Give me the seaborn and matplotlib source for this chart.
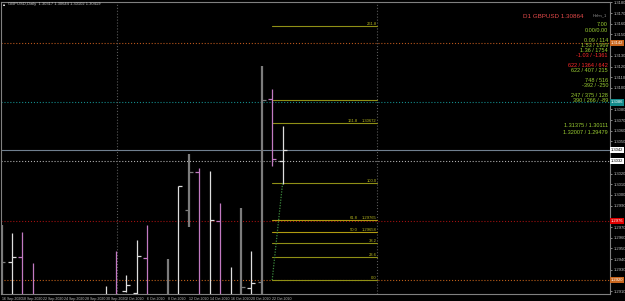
import matplotlib
matplotlib.use("Agg")
import matplotlib.pyplot as plt
import seaborn as sns
import numpy as np

# ---------------- data ----------------
dates = ["16 Sep 2020", "17 Sep 2020", "18 Sep 2020", "21 Sep 2020", "22 Sep 2020",
         "23 Sep 2020", "24 Sep 2020", "25 Sep 2020", "28 Sep 2020", "29 Sep 2020",
         "30 Sep 2020", "1 Oct 2020", "2 Oct 2020", "5 Oct 2020", "6 Oct 2020",
         "7 Oct 2020", "8 Oct 2020", "9 Oct 2020", "12 Oct 2020", "13 Oct 2020",
         "14 Oct 2020", "15 Oct 2020", "16 Oct 2020", "19 Oct 2020", "20 Oct 2020",
         "21 Oct 2020", "22 Oct 2020", "23 Oct 2020"]
opens = [1.2880, 1.29373, 1.29419, 1.2900, 1.2815, 1.2742, 1.2727, 1.2750, 1.2745, 1.2830,
         1.2850, 1.2900, 1.29102, 1.29080, 1.29410, 1.2880, 1.2895, 1.2900, 1.29859, 1.30214,
         1.2900, 1.29756, 1.2890, 1.2900, 1.29130, 1.29186, 1.30896, 1.30317]
highs = [1.29718, 1.29644, 1.29653, 1.29363, 1.2845, 1.2803, 1.2790, 1.2773, 1.2875, 1.2895,
         1.29148, 1.29476, 1.29251, 1.29578, 1.29718, 1.2900, 1.29401, 1.30083, 1.30382, 1.30251,
         1.30223, 1.29924, 1.29326, 1.29877, 1.29476, 1.31205, 1.30990, 1.30644]
lows = [1.2860, 1.2870, 1.2880, 1.2850, 1.2715, 1.2686, 1.2686, 1.2695, 1.2745, 1.2805,
        1.2830, 1.2860, 1.29092, 1.29070, 1.2870, 1.2845, 1.2870, 1.2880, 1.29700, 1.2880,
        1.2885, 1.2880, 1.2870, 1.2880, 1.2890, 1.2890, 1.30270, 1.30102]
closes = [1.29373, 1.29419, 1.2895, 1.2880, 1.2742, 1.2727, 1.2750, 1.2745, 1.2830, 1.2850,
          1.2900, 1.2880, 1.29160, 1.29429, 1.2895, 1.2890, 1.2900, 1.30083, 1.30214, 1.2900,
          1.29765, 1.2895, 1.2905, 1.29139, 1.29176, 1.30887, 1.30335, 1.30419]
bar_kind = ["g", "w", "p", "p", "w", "p", "w", "p", "w", "w",
            "w", "p", "w", "w", "p", "w", "g", "w", "g", "p",
            "w", "p", "w", "g", "w", "g", "p", "w"]

fib_levels = [0.0, 23.6, 38.2, 50.0, 61.8, 100.0, 161.8, 185.4, 261.8]
fib_p0 = 1.29204
fib_p100 = 1.30111

hlines_price = [1.31419, 1.30864, 1.30419, 1.30317, 1.29756, 1.29204]
hlines_color = ["#b8561c", "#138a8a", "#6f7f8f", "#b0b0b0", "#a01010", "#c0601a"]
hlines_style = [":", ":", "-", ":", ":", ":"]

vlines_x = [11.05, 36.1]

price_ticks = [round(1.2910 + 0.0010 * k, 4) for k in range(28)]

info_lines = [("7.00", "g"), ("0.00/0.00", "g"),
              ("0.09 / 114", "g"), ("1.53 / 1969", "g"), ("1.36 / 1754", "g"), ("-1.03 / -1361", "r"),
              ("622 / 1364 / 642", "r"), ("622 / 407 / 215", "g"),
              ("748 / 516", "g"), ("-392 / -250", "g"),
              ("247 / 375 / 128", "g"), ("390 / 266 / -89", "g")]
info_y = [25, 30, 40.7, 45.7, 50.7, 55.7, 65.7, 70.7, 80.7, 85.7, 95.7, 100.7]
hl_lines = ["1.31375 / 1.30111", "1.32007 / 1.29479"]

# ---------------- style ----------------
sns.set_theme(style="dark", rc={"axes.facecolor": "black", "figure.facecolor": "black",
                                "axes.edgecolor": "#808080", "text.color": "#c0c0c0",
                                "xtick.color": "#c0c0c0", "ytick.color": "#c0c0c0"})
plt.rcParams["font.family"] = ["Liberation Sans", "DejaVu Sans"]

W, H = 625, 301
fig = plt.figure(figsize=(W / 100, H / 100), dpi=100, facecolor="black")
ax = fig.add_axes([1 / W, 7 / H, 609 / W, 292 / H])
ax.set_facecolor("black")

ymin, ymax = 1.29074, 1.31803
ax.set_ylim(ymin, ymax)
ax.set_xlim(-0.05, 58.45)

# horizontal lines
for p, c, ls in zip(hlines_price, hlines_color, hlines_style):
    ax.axhline(p, color=c, lw=0.8, ls=ls, zorder=1)
for xv in vlines_x:
    ax.axvline(xv, color="#5a5a5a", lw=0.8, ls=":", zorder=1)

# bars
x = np.arange(len(dates))
col_map = {"w": "#dedede", "p": "#c27ac2", "g": "#7c7c7c"}
lw_map = {"w": 0.9, "p": 0.9, "g": 1.6}
cols = [col_map[k] for k in bar_kind]
lws = [lw_map[k] for k in bar_kind]
ax.vlines(x, lows, highs, colors=cols, linewidths=lws, zorder=3)
tk = 0.38
ax.hlines(opens, x - tk, x, colors=cols, linewidths=0.9, zorder=3)
ax.hlines(closes, x, x + tk, colors=cols, linewidths=0.9, zorder=3)

# fibonacci
fx0, fx1 = 26, 36.1
for lv in fib_levels:
    p = fib_p0 + (fib_p100 - fib_p0) * lv / 100.0
    c = "#b09a10" if lv in (50.0, 61.8) else "#8f8f16"
    ax.plot([fx0, fx1], [p, p], color=c, lw=0.8, zorder=2)
    if lv == 185.4:
        continue
    if lv in (50.0, 61.8, 161.8):
        ax.text(fx1 - 1.9, p, f"{lv:.1f}", color="#b8b81e", fontsize=3.0,
                ha="right", va="bottom", zorder=4)
        ax.text(fx1 - 0.05, p, f"{p:.5f}", color="#b8b81e", fontsize=3.0,
                ha="right", va="bottom", zorder=4)
    else:
        ax.text(fx1 - 0.05, p, f"{lv:.1f}", color="#b8b81e",
                fontsize=3.0, ha="right", va="bottom", zorder=4)
sns.lineplot(x=[26, 27], y=[fib_p0, fib_p100], ax=ax, color="#3d8a3d", lw=0.9,
             linestyle=(0, (1, 1.2)), zorder=2)

# axes / ticks (drop regular labels hidden under highlighted price boxes)
shown_ticks = [t for t in price_ticks if min(abs(t - p) for p in hlines_price) > 0.00045]
ax.yaxis.tick_right()
ax.set_yticks(shown_ticks)
ax.set_yticklabels([f"{t:.4f}" for t in shown_ticks])
ax.tick_params(axis="y", labelsize=3.0, length=1.5, pad=1, colors="#c0c0c0", width=0.5)
ax.set_xticks(x[::2])
ax.set_xticklabels(dates[::2])
ax.tick_params(axis="x", labelsize=2.6, length=1.5, pad=0.6, colors="#c0c0c0", width=0.5)
for lab in ax.get_xticklabels():
    lab.set_ha("left")
for s in ax.spines.values():
    s.set_color("#808080")
    s.set_linewidth(0.8)
ax.grid(False)

# highlighted price labels
box_fc = ["#c8661e", "#138a8a", "#ffffff", "#ffffff", "#e00000", "#c8661e"]
box_tc = ["#ffffff", "#ffffff", "#000000", "#000000", "#ffffff", "#ffffff"]
for p, fc, tc in zip(hlines_price, box_fc, box_tc):
    ax.text(1.0015, p, f"{p:.4f}", transform=ax.get_yaxis_transform(), fontsize=3.0,
            color=tc, ha="left", va="center", clip_on=False, zorder=6,
            bbox=dict(boxstyle="square,pad=0.25", fc=fc, ec="none"))

# texts
fig.text(523 / W, 1 - 16 / H, "D1 GBPUSD 1.30864", color="#e34a4a", fontsize=4.5,
         ha="left", va="center")
fig.text(607 / W, 1 - 15 / H, "Hehn_1", color="#9a9a9a", fontsize=3.0, ha="right", va="center")
for (t, c), yy in zip(info_lines, info_y):
    fig.text(608 / W, 1 - yy / H, t, color="#9acd32" if c == "g" else "#ff2a2a",
             fontsize=4.0, ha="right", va="center")
for t, yy in zip(hl_lines, [125.3, 132]):
    fig.text(608 / W, 1 - yy / H, t, color="#9acd32", fontsize=4.0, ha="right", va="center")

fig.text(3 / W, 1 - 4.5 / H, "\u25a0", color="#ffffff", fontsize=2.5, ha="left", va="center")
fig.text(8 / W, 1 - 4.5 / H, "GBPUSD,Daily  1.30317 1.30644 1.30102 1.30419", color="#c8c8c8",
         fontsize=3.0, ha="left", va="center")

fig.savefig("out.png", dpi=100, facecolor="black")
